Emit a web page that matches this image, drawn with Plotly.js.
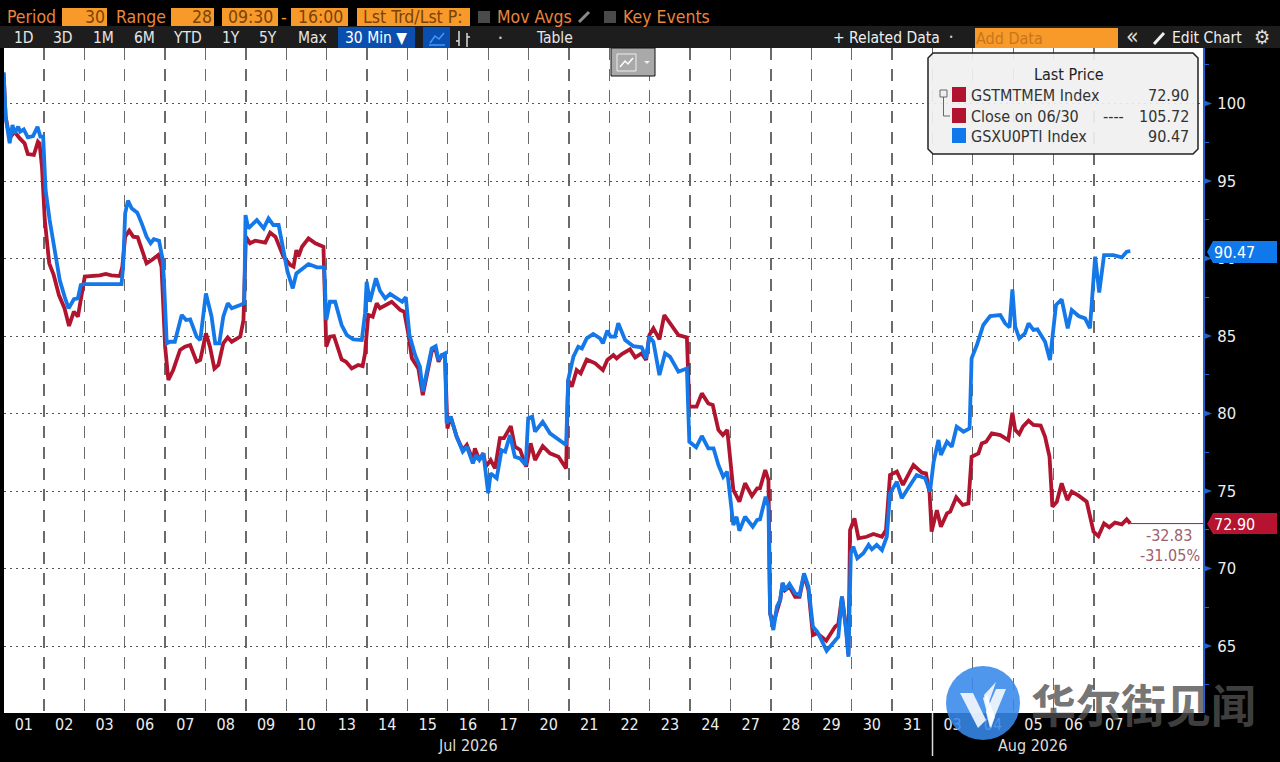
<!DOCTYPE html>
<html>
<head>
<meta charset="utf-8">
<script src="https://cdn.plot.ly/plotly-3.0.1.min.js"></script>
<style>html,body{margin:0;padding:0;background:#000;overflow:hidden}#chart{width:1280px;height:762px}</style>
</head>
<body>
<div id="chart"></div>
<script>
// Session position (1 unit = one trading day from the start of Jul 01) and index level
const redSessions = [0,0.05,0.15,0.27,0.40,0.52,0.60,0.75,0.85,0.89,0.95,1.02,1.13,1.24,1.37,1.51,1.62,1.74,1.84,1.93,2.01,2.38,2.53,2.67,2.88,2.94,3.01,3.11,3.21,3.32,3.42,3.54,3.67,3.83,3.91,4.00,4.08,4.20,4.37,4.49,4.62,4.78,4.87,5.01,5.11,5.22,5.32,5.44,5.55,5.65,5.86,5.94,6.00,6.10,6.23,6.48,6.60,6.73,6.93,7.10,7.18,7.25,7.30,7.39,7.55,7.72,7.92,7.99,8.08,8.18,8.37,8.48,8.62,8.78,8.89,8.95,9.03,9.14,9.24,9.32,9.61,9.82,9.92,10.02,10.11,10.27,10.38,10.48,10.60,10.68,10.77,10.85,10.93,10.99,11.07,11.22,11.37,11.47,11.62,11.67,11.78,11.88,11.94,12.06,12.17,12.29,12.39,12.56,12.66,12.79,12.94,13.05,13.16,13.35,13.53,13.74,13.93,13.98,14.07,14.19,14.29,14.44,14.65,14.84,14.95,15.10,15.18,15.31,15.51,15.64,15.80,15.91,15.99,16.09,16.24,16.36,16.50,16.71,16.92,16.98,17.16,17.29,17.45,17.56,17.70,17.81,17.92,18.07,18.22,18.36,18.53,18.66,18.73,18.86,18.94,18.98,19.06,19.23,19.29,19.35,19.46,19.60,19.71,19.82,19.93,20.04,20.15,20.37,20.59,20.67,20.76,20.86,20.92,20.96,21.07,21.17,21.37,21.54,21.75,21.85,21.95,22.12,22.27,22.53,22.74,22.84,22.93,22.98,23.11,23.21,23.36,23.44,23.59,23.75,23.89,23.97,24.14,24.22,24.33,24.47,24.68,24.88,24.98,25.05,25.15,25.24,25.38,25.50,25.68,25.79,25.90,25.97,26.08,26.20,26.34,26.45,26.62,26.82,26.99,27.11,27.25,27.38,27.52,27.69,27.81,27.90];
const redValues = [102.00,99.15,97.75,98.18,97.75,97.43,96.74,96.68,97.54,97.43,95.92,92.48,89.69,88.94,87.64,86.78,85.65,86.57,86.25,87.75,88.83,88.91,89.00,88.91,88.87,89.47,91.41,91.80,91.41,91.37,90.55,89.69,89.90,90.23,89.47,84.31,82.16,82.81,84.10,84.31,84.42,83.34,83.45,85.17,84.31,82.90,83.13,84.53,84.91,84.63,84.96,86.03,91.41,90.98,91.15,91.02,91.67,91.41,90.12,89.58,89.47,90.55,90.12,90.76,91.30,90.98,90.76,84.31,84.96,85.00,83.49,83.34,82.91,83.13,83.06,83.88,86.36,86.25,87.11,86.79,87.21,86.68,86.57,85.17,83.56,82.91,81.19,82.59,83.99,84.31,83.34,83.77,83.77,79.04,79.80,78.50,77.65,77.97,77.00,77.75,77.00,77.43,76.57,77.00,76.46,78.41,78.41,79.19,77.86,77.65,76.57,78.08,77.00,77.90,77.43,77.21,76.46,82.16,81.73,82.80,82.59,83.49,83.24,82.80,83.45,83.77,83.56,83.84,84.14,83.62,83.88,83.45,85.06,85.49,84.78,86.35,85.82,85.06,84.91,80.44,80.44,81.30,80.65,80.55,78.94,78.61,78.94,75.07,74.31,75.50,74.68,75.17,75.17,76.35,75.71,67.11,66.46,67.97,69.04,68.61,68.83,68.18,68.18,69.58,68.61,65.71,65.82,65.34,66.25,66.42,68.18,66.25,64.42,72.48,73.24,71.95,72.05,72.23,72.05,72.48,76.03,76.25,75.39,76.68,76.18,76.14,74.85,72.38,73.77,72.70,73.56,73.67,74.59,74.10,74.20,77.21,77.43,78.07,78.18,78.72,78.61,78.29,80.05,78.94,78.68,79.15,79.54,79.26,79.22,78.50,77.21,73.99,74.31,75.50,74.42,74.96,74.70,74.31,72.37,72.09,72.91,72.66,72.96,72.85,73.17,72.90];

const blueSessions = [0,0.05,0.15,0.22,0.27,0.36,0.41,0.50,0.60,0.73,0.84,0.91,0.98,1.04,1.14,1.27,1.39,1.51,1.61,1.74,1.84,1.91,2.01,2.92,2.96,3.01,3.08,3.17,3.31,3.42,3.54,3.64,3.72,3.85,3.94,3.97,4.04,4.12,4.24,4.41,4.52,4.62,4.78,4.87,5.01,5.15,5.24,5.34,5.44,5.55,5.65,5.86,5.96,5.99,6.06,6.27,6.44,6.56,6.68,6.81,6.93,7.03,7.16,7.25,7.55,7.76,7.94,7.99,8.08,8.21,8.37,8.50,8.66,8.87,8.95,8.99,9.07,9.22,9.32,9.45,9.57,9.78,9.87,9.96,10.05,10.19,10.31,10.38,10.48,10.60,10.70,10.77,10.85,10.93,10.97,11.07,11.22,11.37,11.47,11.62,11.70,11.78,11.88,11.94,12.00,12.06,12.21,12.33,12.42,12.54,12.66,12.79,12.93,12.99,13.09,13.16,13.35,13.53,13.78,13.93,13.98,14.11,14.23,14.32,14.44,14.60,14.77,14.84,14.95,15.03,15.14,15.22,15.39,15.59,15.80,15.91,15.99,16.09,16.24,16.38,16.50,16.71,16.92,16.98,17.15,17.29,17.45,17.58,17.70,17.82,17.92,18.07,18.15,18.22,18.36,18.55,18.66,18.73,18.87,18.94,18.98,19.06,19.15,19.23,19.29,19.35,19.46,19.60,19.71,19.82,19.93,20.04,20.15,20.38,20.67,20.76,20.86,20.92,20.98,21.04,21.14,21.29,21.42,21.50,21.62,21.75,21.87,21.95,22.12,22.24,22.37,22.61,22.82,22.94,23.03,23.15,23.21,23.36,23.48,23.60,23.77,23.92,23.97,24.10,24.26,24.43,24.68,24.80,24.91,24.98,25.05,25.15,25.29,25.38,25.50,25.60,25.79,25.91,26.06,26.20,26.35,26.45,26.62,26.78,26.90,27.03,27.13,27.25,27.48,27.69,27.81,27.90];
const blueValues = [102.00,99.15,97.43,98.61,98.08,98.50,98.18,98.33,97.82,97.90,98.50,97.86,97.86,94.42,92.48,90.55,88.61,87.54,86.78,87.37,87.43,88.29,88.35,88.35,89.47,92.91,93.73,93.24,92.96,92.27,91.41,90.98,91.24,91.15,89.90,88.61,84.53,84.63,84.63,86.36,86.03,86.07,84.96,84.74,87.75,86.25,84.53,84.53,86.25,87.11,86.79,87.00,87.11,92.80,91.95,92.48,91.95,92.59,92.16,92.16,90.55,89.15,88.07,89.04,89.64,89.43,89.43,86.03,87.21,87.21,85.71,85.06,84.78,84.74,86.46,88.50,87.21,88.72,87.92,87.43,87.71,87.37,87.21,87.50,85.06,83.77,83.02,81.41,82.59,84.20,84.35,83.45,83.77,83.88,79.37,79.80,78.50,77.54,77.86,76.78,77.32,77.00,77.43,76.14,74.85,76.14,75.82,77.64,77.54,78.61,77.21,77.10,76.68,79.69,79.80,78.83,79.47,78.72,78.29,77.97,82.16,83.67,84.31,84.20,84.85,85.13,84.85,84.53,85.34,84.96,84.96,85.82,84.74,84.35,84.27,83.56,84.96,84.63,82.48,83.88,83.67,82.70,82.91,78.18,77.82,78.55,77.75,77.75,76.68,75.92,76.25,72.80,73.34,72.44,73.34,72.70,73.13,73.17,74.63,74.00,67.11,66.03,67.54,67.97,69.09,68.61,69.00,68.40,68.29,69.69,68.83,66.25,65.92,64.70,65.60,68.20,66.03,64.31,70.98,71.41,70.66,70.98,71.52,71.24,71.52,71.19,72.05,74.85,75.60,74.53,75.06,76.03,75.82,74.96,76.89,78.29,77.32,78.18,77.86,79.15,78.83,79.04,83.56,84.42,85.71,86.29,86.35,85.82,85.56,88.01,85.60,84.85,85.17,85.82,85.39,85.43,84.63,83.45,87.00,87.37,85.50,86.68,86.29,86.14,85.50,90.12,87.80,90.22,90.22,90.07,90.44,90.47];

const leaderSessions = [27.90, 29.70];
const leaderValues = [72.90, 72.90];

const dayLabels = ['01','02','03','06','07','08','09','10','13','14','15','16','17','20','21','22','23','24','27','28','29','30','31','03','04','05','06','07'];
const priceTicks = [65,70,75,80,85,90,95,100];
const minorPriceTicks = [62.5,67.5,72.5,77.5,82.5,87.5,92.5,97.5,102.5];

const RED='#b0142e', BLUE='#1478e8', ORANGE='#f79a2a', LABEL='#e8863c', AXIS='#1f63c8';
const FONT='"DejaVu Sans Condensed","DejaVu Sans",sans-serif';

// pixel to paper helpers, for the terminal chrome around the plot
const L=4,R=1203,T=48,B=713;
const X=p=>(p-L)/(R-L), Y=p=>(B-p)/(B-T);
const shapes=[], annotations=[];
function rect(x0,y0,x1,y1,fill,extra){shapes.push(Object.assign({type:'rect',xref:'paper',yref:'paper',x0:X(x0),x1:X(x1),y0:Y(y0),y1:Y(y1),fillcolor:fill,line:{width:0},layer:'above'},extra||{}));}
function path(pts,fill,lineColor,lineW,closed,op){
  const d=pts.map((q,i)=>(i?'L':'M')+X(q[0]).toFixed(5)+','+Y(q[1]).toFixed(5)).join(' ')+(closed===false?'':' Z');
  shapes.push({type:'path',xref:'paper',yref:'paper',path:d,fillcolor:fill||'rgba(0,0,0,0)',line:{width:lineW||0,color:lineColor||'rgba(0,0,0,0)'},layer:'above',opacity:op==null?1:op});
}
function text(str,x,y,o){o=o||{};annotations.push({text:str,xref:'paper',yref:'paper',x:X(x),y:Y(y),xanchor:o.a||'left',yanchor:'middle',showarrow:false,borderpad:0,borderwidth:0,font:{family:o.f||FONT,size:o.s||16,color:o.c||'#fff',weight:o.w||400}});}

// blue arrowheads at the major price ticks, tied to the price axis
priceTicks.forEach(v=>{
  shapes.push({type:'path',xref:'paper',yref:'y',layer:'above',fillcolor:AXIS,line:{width:0},
    path:'M'+X(1203).toFixed(5)+','+(v+0.22)+' L'+X(1212).toFixed(5)+','+v+' L'+X(1203).toFixed(5)+','+(v-0.22)+' Z'});
});

// top strip
const TOP=17.5;
rect(0,0,1280,26,'#000');
rect(0,26,1280,48,'#1d1d1d');
text('Period',7,17,{c:LABEL,s:TOP});
rect(62,8,107,26,ORANGE); text('30',105,17,{a:'right',c:'#7a4208',s:TOP});
text('Range',116,17,{c:LABEL,s:TOP});
rect(171,8,214,26,ORANGE); text('28',212,17,{a:'right',c:'#7a4208',s:TOP});
rect(222,8,278,26,ORANGE); text('09:30',250,17,{a:'center',c:'#7a4208',s:TOP});
text('-',284,17,{a:'center',c:ORANGE,s:TOP});
rect(291,8,348,26,ORANGE); text('16:00',320,17,{a:'center',c:'#7a4208',s:TOP});
rect(357,8,470,26,ORANGE); text('Lst Trd/Lst P:',413,17,{a:'center',c:'#7a4208',s:TOP});
rect(478,11,490,23,'#4a4a4a');
text('Mov Avgs',497,17,{c:LABEL,s:TOP});
path([[579,22],[589,12]],null,'#8a8a8a',3,false);
rect(604,11,616,23,'#4a4a4a');
text('Key Events',623,17,{c:LABEL,s:TOP});

// button strip
[['1D',24],['3D',63],['1M',103],['6M',144],['YTD',187],['1Y',231],['5Y',268],['Max',312],['Table',554]].forEach(b=>text(b[0],b[1],38,{a:'center',s:15.5,c:'#e6e6e6'}));
rect(338,27,415,48,'#0b4fae');
text('30 Min \u25BC',376,38,{a:'center',s:15.5});
rect(423,27,450,48,'#0b4fae');
path([[430,43],[435,36],[439,39],[444,33]],null,'#3d9bff',1.5,false);
path([[429,45],[445,45]],null,'#3d9bff',1.5,false);
path([[459,31],[459,46]],null,'#ddd',1.5,false);
path([[456,41],[459,41]],null,'#ddd',1.5,false);
path([[467,33],[467,47]],null,'#ddd',1.5,false);
path([[467,37],[470,37]],null,'#ddd',1.5,false);
text('\u2022',500,38,{a:'center',s:9,c:'#ccc'});
text('+ Related Data',833,38,{s:15.5,c:'#eee'});
text('\u2022',951,38,{a:'center',s:8,c:'#ccc'});
rect(975,28,1118,48,ORANGE);
text('Add Data',976,39,{s:16,c:'#c9761a'});
text('\u00AB',1132,36,{a:'center',s:23,c:'#ddd'});
path([[1154,44],[1164,33]],null,'#eee',3,false);
text('Edit Chart',1172,38,{s:15.5,c:'#eee'});
text('\u2699',1262,37,{a:'center',s:20,c:'#ddd'});

// small chart-type button
rect(611,48,655,76,'#a9a9a9',{line:{width:1,color:'#111'}});
rect(617,54,636,71,'#a9a9a9',{line:{width:1,color:'#eee'}});
path([[620,67],[625,61],[628,64],[633,58]],null,'#fff',1.5,false);
path([[644,61],[650,61],[647,64]],'#eee');

// legend box
(function(){const a=928,b=1198,t=53,u=154,r=5;
 path([[a+r,t],[b-r,t],[b,t+r],[b,u-r],[b-r,u],[a+r,u],[a,u-r],[a,t+r]],'rgba(240,240,240,0.92)','#222',1.5);
})();
text('Last Price',1069,74,{a:'center',c:'#222'});
rect(952,87,966,102,RED); rect(952,108,966,123,RED); rect(952,128,966,143,'#0f78ea');
rect(940,90,947,97,'#eee',{line:{width:1,color:'#666'}});
path([[943.5,97],[943.5,116],[950,116]],null,'#666',1,false);
text('GSTMTMEM Index',971,95,{c:'#333'});
text('Close on 06/30',971,116,{c:'#333'});
text('----',1113,116,{a:'center',c:'#333'});
text('GSXU0PTI Index',971,136,{c:'#333'});
text('72.90',1189,95,{a:'right',c:'#333'});
text('105.72',1189,116,{a:'right',c:'#333'});
text('90.47',1189,136,{a:'right',c:'#333'});

// last value tags
path([[1207,252],[1213,241],[1277,241],[1277,263],[1213,263]],'#0f78ea');
text('90.47',1214,252,{});
path([[1207,524],[1213,513],[1277,513],[1277,534],[1213,534]],'#b5132f');
text('72.90',1214,524,{});
text('-32.83',1192,535,{a:'right',c:'#a0606c'});
text('-31.05%',1200,555,{a:'right',c:'#a0606c'});

// month row
path([[932.5,713],[932.5,756]],null,'#ddd',1.5,false);
text('Jul 2026',468,745,{a:'center',c:'#ddd'});
text('Aug 2026',1032,745,{a:'center',c:'#ddd'});

// watermark
shapes.push({type:'circle',xref:'paper',yref:'paper',x0:X(946),x1:X(1020),y0:Y(740),y1:Y(666),fillcolor:'rgba(55,135,235,0.88)',line:{width:0},layer:'above'});
const MARK='rgba(255,255,255,0.86)';
path([[960,693],[973,693],[986,720],[978,728]],MARK);
path([[984,695],[996,682],[987,708]],MARK);
path([[983,698],[987,695],[995,717],[991,728]],MARK);
path([[990,728],[1006,689],[996,689],[986,712]],MARK);
text('华尔街见闻',1031,703,{f:'"Noto Sans CJK SC",sans-serif',s:45,w:700,c:'rgba(80,80,80,0.8)'});

const traces=[
 {x:leaderSessions,y:leaderValues,mode:'lines',line:{color:'#8a2a3a',width:1},name:'Last',showlegend:false},
 {x:redSessions,y:redValues,mode:'lines',line:{color:RED,width:3.8},name:'GSTMTMEM Index',showlegend:false},
 {x:blueSessions,y:blueValues,mode:'lines',line:{color:BLUE,width:3.8},name:'GSXU0PTI Index',showlegend:false}
];

const layout={
 width:1280,height:762,autosize:false,
 paper_bgcolor:'#000',plot_bgcolor:'#fff',
 margin:{l:L,r:1280-R,t:T,b:762-B,pad:0},
 showlegend:false,hovermode:false,
 font:{family:FONT,size:16,color:'#fff'},
 xaxis:{
  range:[0.01,29.7],type:'linear',
  tickmode:'array',tickvals:dayLabels.map((_,i)=>i+0.5),ticktext:dayLabels,
  ticks:'',showgrid:false,zeroline:false,showline:false,
  tickfont:{family:FONT,size:16,color:'#eee'},tickangle:0,
  minor:{tickmode:'array',tickvals:dayLabels.slice(1).map((_,i)=>i+1),showgrid:true,gridcolor:'#6a6a6a',gridwidth:1.3,griddash:'12px,9px',ticks:''}
 },
 yaxis:{
  side:'right',range:[60.68,103.58],
  tickmode:'array',tickvals:priceTicks,ticktext:priceTicks.map(String),
  ticks:'outside',ticklen:9,tickwidth:1,tickcolor:'rgba(0,0,0,0)',
  showgrid:true,gridcolor:'#555',gridwidth:1,griddash:'2px,4px',
  zeroline:false,showline:true,linecolor:AXIS,linewidth:2,
  tickfont:{family:FONT,size:16.5,color:'#eee'},
  minor:{tickmode:'array',tickvals:minorPriceTicks,ticks:'outside',ticklen:4,tickwidth:1,tickcolor:AXIS,showgrid:false}
 },
 shapes:shapes,annotations:annotations
};
Plotly.newPlot('chart',traces,layout,{displayModeBar:false,staticPlot:true});
</script>
</body>
</html>
